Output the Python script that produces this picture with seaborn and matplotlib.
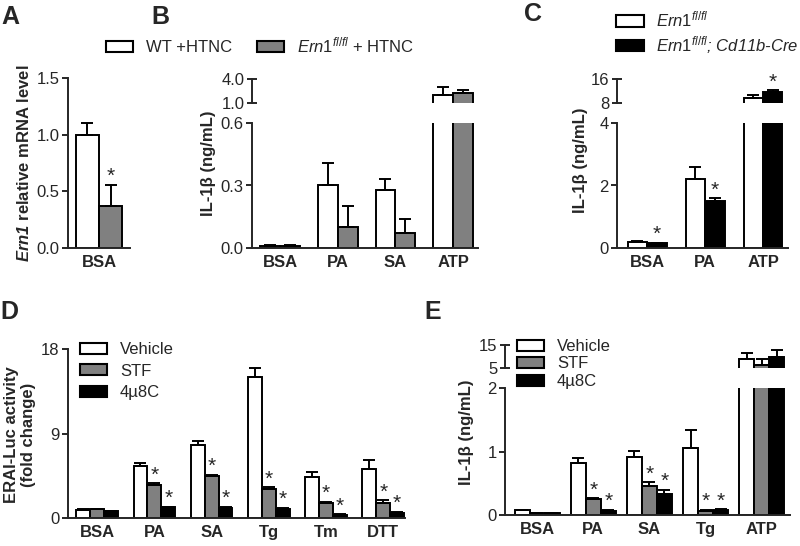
import numpy as np
import pandas as pd
import matplotlib
matplotlib.use("Agg")
import matplotlib.pyplot as plt
import matplotlib.patches as mpatches
from matplotlib.ticker import FormatStrFormatter
import seaborn as sns

# ---- data ----
a_cats = ["BSA"]
a_names = ["WT + HTNC", "Ern1 + HTNC"]
a_vals = [[1.0], [0.37]]
a_errs = [[0.10], [0.19]]
a_stars = [(1, 0)]

b_cats = ["BSA", "PA", "SA", "ATP"]
b_names = ["WT + HTNC", "Ern1 + HTNC"]
b_vals = [[0.01, 0.30, 0.28, 2.0], [0.01, 0.10, 0.07, 2.25]]
b_errs = [[0.005, 0.11, 0.05, 1.0], [0.005, 0.10, 0.07, 0.35]]

c_cats = ["BSA", "PA", "ATP"]
c_names = ["Ern1", "Ern1; Cd11b-Cre"]
c_vals = [[0.20, 2.2, 9.7], [0.15, 1.5, 11.7]]
c_errs = [[0.02, 0.4, 1.0], [0.02, 0.1, 0.6]]
c_stars = [(1, 0), (1, 1), (1, 2)]

d_cats = ["BSA", "PA", "SA", "Tg", "Tm", "DTT"]
d_names = ["Vehicle", "STF", "4\u00b58C"]
d_vals = [[0.9, 5.55, 7.8, 15.05, 4.35, 5.2],
          [0.95, 3.55, 4.5, 3.1, 1.65, 1.65],
          [0.7, 1.12, 1.1, 1.0, 0.35, 0.55]]
d_errs = [[0.05, 0.3, 0.4, 0.95, 0.55, 1.0],
          [0.05, 0.15, 0.1, 0.15, 0.1, 0.25],
          [0.05, 0.1, 0.1, 0.08, 0.05, 0.1]]
d_stars = [(i, j) for j in range(1, 6) for i in (1, 2)]

e_cats = ["BSA", "PA", "SA", "Tg", "ATP"]
e_names = ["Vehicle", "STF", "4\u00b58C"]
e_vals = [[0.08, 0.82, 0.92, 1.05, 8.9],
          [0.03, 0.25, 0.46, 0.07, 6.4],
          [0.03, 0.07, 0.33, 0.08, 9.7]]
e_errs = [[0.005, 0.07, 0.09, 0.29, 2.5],
          [0.005, 0.01, 0.06, 0.01, 2.5],
          [0.005, 0.01, 0.07, 0.01, 3.3]]
e_stars = [(1, 1), (2, 1), (1, 2), (2, 2), (1, 3), (2, 3)]

two_cols = ["white", "#808080"]
c_cols = ["white", "black"]
three_cols = ["white", "#808080", "black"]

sns.set_theme(style="ticks")
plt.rcParams["font.family"] = ["Liberation Sans", "DejaVu Sans"]
plt.rcParams["mathtext.fontset"] = "custom"
plt.rcParams["mathtext.rm"] = "Liberation Sans"
plt.rcParams["mathtext.it"] = "Liberation Sans:italic"
plt.rcParams["mathtext.bf"] = "Liberation Sans:bold"
plt.rcParams["mathtext.bfit"] = "Liberation Sans:bold:italic"
plt.rcParams["axes.linewidth"] = 1.4
plt.rcParams["xtick.major.width"] = 1.4
plt.rcParams["ytick.major.width"] = 1.4

FS = 12
LW = 1.4
W, H = 800, 546
fig = plt.figure(figsize=(8, 5.46), dpi=100)


def px_axes(left, right, top, bottom):
    return fig.add_axes([left / W, 1 - bottom / H, (right - left) / W, (bottom - top) / H])


def draw_bars(ax, cats, names, vals, errs, cols, width):
    df = pd.DataFrame({
        "cat": [c for _ in names for c in cats],
        "grp": [n for n in names for _ in cats],
        "val": [v for row in vals for v in row],
    })
    sns.barplot(data=df, x="cat", y="val", hue="grp", order=cats, hue_order=names,
                palette=cols, saturation=1, edgecolor="black", linewidth=LW,
                width=width, gap=0, errorbar=None, legend=False, ax=ax)
    for cont, err in zip(ax.containers, errs):
        for bar, e in zip(cont, err):
            ax.errorbar(bar.get_x() + bar.get_width() / 2, bar.get_height(),
                        yerr=[[0], [e]], fmt="none", ecolor="black",
                        elinewidth=LW, capsize=4.5, capthick=LW)


def style_low(ax, xlim, ylim, ticks, fmt):
    ax.set_xlim(*xlim)
    ax.set_ylim(*ylim)
    ax.set_yticks(ticks)
    ax.yaxis.set_major_formatter(FormatStrFormatter(fmt))
    ax.set_xlabel("")
    ax.set_ylabel("")
    sns.despine(ax=ax)
    ax.tick_params(axis="x", length=0, pad=5, labelsize=FS)
    ax.tick_params(axis="y", length=4, pad=2, labelsize=FS)
    for lab in ax.get_xticklabels():
        lab.set_fontweight("bold")
    ax.patch.set_alpha(0)


def style_high(ax, xlim, ylim, fmt):
    ax.set_xlim(*xlim)
    ax.set_ylim(*ylim)
    ax.set_yticks(list(ylim))
    ax.yaxis.set_major_formatter(FormatStrFormatter(fmt))
    ax.set_xticks([])
    ax.set_xlabel("")
    ax.set_ylabel("")
    sns.despine(ax=ax, bottom=True)
    ax.tick_params(axis="y", length=7, direction="inout", pad=2, labelsize=FS)
    ax.patch.set_alpha(0)


axes_err = {}


def add_stars(axes, stars):
    for i, j in stars:
        for ax in axes:
            bar = ax.containers[i][j]
            top = bar.get_height() + axes_err[id(ax)][i][j]
            lo, hi = ax.get_ylim()
            if lo <= top <= hi:
                ax.annotate("*", xy=(bar.get_x() + bar.get_width() / 2, top),
                            xytext=(0, -1), textcoords="offset points",
                            ha="center", va="bottom", fontsize=15)
                break


# ---- panel A ----
axA = px_axes(68, 130, 78, 248)
draw_bars(axA, a_cats, a_names, a_vals, a_errs, two_cols, 0.75)
style_low(axA, (-0.5, 0.5), (0, 1.5), [0, 0.5, 1.0, 1.5], "%.1f")
axes_err[id(axA)] = a_errs
add_stars([axA], a_stars)

# ---- panel B ----
axB = px_axes(252, 478, 123, 248)
axB2 = px_axes(252, 478, 79, 103)
for ax in (axB, axB2):
    draw_bars(ax, b_cats, b_names, b_vals, b_errs, two_cols, 0.69)
    axes_err[id(ax)] = b_errs
style_low(axB, (-0.485, 3.43), (0, 0.6), [0, 0.3, 0.6], "%.1f")
style_high(axB2, (-0.485, 3.43), (1.0, 4.0), "%.1f")

# ---- panel C ----
axC = px_axes(617, 788, 123, 248)
axC2 = px_axes(617, 788, 79, 103)
for ax in (axC, axC2):
    draw_bars(ax, c_cats, c_names, c_vals, c_errs, c_cols, 0.67)
    axes_err[id(ax)] = c_errs
style_low(axC, (-0.52, 2.43), (0, 4), [0, 2, 4], "%d")
style_high(axC2, (-0.52, 2.43), (8, 16), "%d")
add_stars([axC, axC2], c_stars)

# ---- panel D ----
axD = px_axes(68, 405, 349, 518)
draw_bars(axD, d_cats, d_names, d_vals, d_errs, three_cols, 0.73)
style_low(axD, (-0.51, 5.38), (0, 18), [0, 9, 18], "%d")
axes_err[id(axD)] = d_errs
add_stars([axD], d_stars)

# ---- panel E ----
axE = px_axes(505, 790, 388, 515)
axE2 = px_axes(505, 790, 345, 368)
for ax in (axE, axE2):
    draw_bars(ax, e_cats, e_names, e_vals, e_errs, three_cols, 0.8)
    axes_err[id(ax)] = e_errs
style_low(axE, (-0.57, 4.5), (0, 2), [0, 1, 2], "%d")
style_high(axE2, (-0.57, 4.5), (5, 15), "%d")
add_stars([axE, axE2], e_stars)

# ---- y labels ----
fig.text(24 / W, 1 - 163 / H, r"$\mathbfit{Ern1}$ relative mRNA level", rotation=90,
         ha="center", va="center", fontsize=FS, fontweight="bold")
fig.text(208 / W, 1 - 163 / H, "IL-1\u03b2 (ng/mL)", rotation=90,
         ha="center", va="center", fontsize=FS, fontweight="bold")
fig.text(580 / W, 1 - 160 / H, "IL-1\u03b2 (ng/mL)", rotation=90,
         ha="center", va="center", fontsize=FS, fontweight="bold")
fig.text(20 / W, 1 - 435 / H, "ERAI-Luc activity\n(fold change)", rotation=90,
         ha="center", va="center", fontsize=FS, fontweight="bold", linespacing=1.1)
fig.text(467 / W, 1 - 432 / H, "IL-1\u03b2 (ng/mL)", rotation=90,
         ha="center", va="center", fontsize=FS, fontweight="bold")

# ---- panel letters ----
for lab, x, y in [("A", 1, 5), ("B", 151, 5), ("C", 524, 2), ("D", 0, 300), ("E", 424, 300)]:
    fig.text(x / W, 1 - y / H, lab, fontsize=18, fontweight="bold", ha="left", va="top")


# ---- legends ----
def handles(cols):
    return [mpatches.Patch(facecolor=c, edgecolor="black", linewidth=1.5) for c in cols]


fig.legend(handles(two_cols),
           ["WT +HTNC", r"$\mathit{Ern1}^{\mathit{fl/fl}}$ + HTNC"],
           loc="center left", bbox_to_anchor=(106 / W, 1 - 45 / H), ncol=2,
           frameon=False, fontsize=FS, handlelength=1.6, handleheight=0.65,
           handletextpad=0.8, columnspacing=1.5, borderpad=0, borderaxespad=0)

legC = fig.legend(handles(c_cols),
                  [r"$\mathit{Ern1}^{\mathit{fl/fl}}$", r"$\mathit{Ern1}^{\mathit{fl/fl}}$; Cd11b-Cre"],
                  loc="upper left", bbox_to_anchor=(616 / W, 1 - 10 / H),
                  frameon=False, fontsize=FS, handlelength=1.7, handleheight=0.65,
                  handletextpad=0.7, labelspacing=0.25, borderpad=0, borderaxespad=0)
legC.get_texts()[1].set_fontstyle("italic")

fig.legend(handles(three_cols), d_names,
           loc="upper left", bbox_to_anchor=(80 / W, 1 - 342 / H),
           frameon=False, fontsize=FS, handlelength=1.6, handleheight=0.65,
           handletextpad=0.8, labelspacing=0.4, borderpad=0, borderaxespad=0)

fig.legend(handles(three_cols), e_names,
           loc="upper left", bbox_to_anchor=(517 / W, 1 - 339 / H),
           frameon=False, fontsize=FS, handlelength=1.6, handleheight=0.65,
           handletextpad=0.8, labelspacing=0.15, borderpad=0, borderaxespad=0)

fig.savefig("out.png", dpi=100)
